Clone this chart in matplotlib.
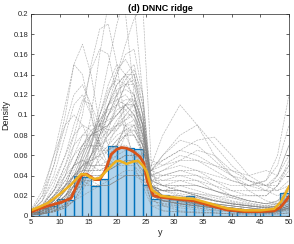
import numpy as np
import matplotlib
matplotlib.use("Agg")
import matplotlib.pyplot as plt

plt.rcParams['font.family'] = ['Liberation Sans', 'DejaVu Sans']

# histogram of y (density), bins of width 1.5 from 5 to 50
bin_edges = np.arange(5, 50.01, 1.5)
hist_density = [0.004, 0.008, 0.0095, 0.017, 0.0155, 0.040, 0.039, 0.030, 0.037, 0.069,
                0.068, 0.067, 0.066, 0.031, 0.017, 0.021, 0.017, 0.016, 0.020, 0.0145,
                0.013, 0.010, 0.008, 0.005, 0.004, 0.004, 0.004, 0.004, 0.006, 0.023]

# red density estimate
red_x = [5, 6.5, 8, 10.3, 12, 12.9, 13.8, 14.6, 15.4, 16.1, 17.0, 17.9, 19.0, 20.0, 20.8, 21.7,
         22.8, 24.0, 24.7, 25.3, 26.4, 28.2, 30.5, 33.4, 36.3, 39.2, 42.2, 45.1, 47.4, 48.6, 50]
red_y = [0.004, 0.007, 0.010, 0.0135, 0.0175, 0.029, 0.040, 0.0415, 0.039, 0.036, 0.036, 0.044,
         0.061, 0.066, 0.0677, 0.067, 0.064, 0.0587, 0.052, 0.034, 0.020, 0.018, 0.0168, 0.0149,
         0.0102, 0.0059, 0.0043, 0.0043, 0.005, 0.009, 0.019]

# yellow density estimate
yel_x = [5, 6.5, 8, 10.3, 12, 13.8, 14.6, 15.4, 16.1, 17.0, 18.4, 19.8, 20.5, 21.7, 22.8, 23.7,
         24.5, 25.2, 26.1, 27.6, 30.5, 33.4, 36.3, 39.2, 42.2, 45.1, 47.4, 48.6, 50]
yel_y = [0.0055, 0.009, 0.0129, 0.0228, 0.031, 0.0415, 0.041, 0.038, 0.0366, 0.0376, 0.046, 0.054,
         0.0545, 0.0515, 0.0538, 0.0545, 0.050, 0.044, 0.0257, 0.020, 0.018, 0.0168, 0.0122,
         0.0075, 0.0055, 0.0055, 0.007, 0.014, 0.029]

# gray ridge curves, values in hundredths at these y positions
ridge_x = [5, 7, 9, 11, 12.5, 14, 15.5, 17, 18.5, 20, 21.5, 23, 24.5, 26, 28, 31, 34, 37, 40, 43, 46, 48, 50]
ridge_curves_x100 = [
    [0.3, 1.5, 5, 10, 15, 17, 14, 9, 7, 9, 11, 11, 8, 2, 1.5, 1.2, 1, 0.8, 0.6, 0.5, 0.4, 0.5, 0.8],
    [0.5, 2, 6, 11, 15, 14, 10, 6, 5, 7, 9, 9, 6, 2, 1.5, 1.5, 1.2, 1, 0.8, 0.6, 0.5, 0.6, 1],
    [0.2, 0.5, 1.5, 4, 7, 10, 15, 18.5, 19, 15, 9, 5, 3, 1, 1, 1, 0.8, 0.6, 0.5, 0.4, 0.3, 0.4, 0.6],
    [0.3, 1, 2.5, 5, 8, 11, 14.5, 16.5, 16, 12, 8, 6, 4, 1.5, 1.2, 1, 0.8, 0.6, 0.5, 0.4, 0.3, 0.4, 0.6],
    [0.1, 0.3, 1, 2.5, 4, 6, 8, 10, 12, 14, 16, 16.5, 12, 3, 1, 0.8, 0.6, 0.5, 0.4, 0.3, 0.3, 0.3, 0.5],
    [0.1, 0.2, 0.5, 1.5, 3, 6, 10, 16, 21, 24, 20, 12, 5, 1, 0.5, 0.4, 0.3, 0.3, 0.2, 0.2, 0.2, 0.2, 0.3],
    [0.1, 0.2, 0.5, 1, 2, 4, 7, 11, 15, 19, 22, 21, 12, 2, 0.5, 0.4, 0.3, 0.3, 0.2, 0.2, 0.2, 0.2, 0.3],
    [0.1, 0.2, 0.4, 0.8, 1.5, 3, 5, 8, 11, 14, 17, 19.5, 21, 5, 1, 0.5, 0.4, 0.3, 0.2, 0.2, 0.2, 0.2, 0.3],
    [0.5, 2, 5, 9, 12, 13, 11, 7, 5, 6, 8, 9, 7, 2.5, 2, 2, 1.8, 1.5, 1.2, 1, 0.8, 1, 1.5],
    [0.4, 1.5, 4, 8, 11, 12, 10, 7, 6, 7, 8, 8, 6, 3, 2.5, 2.5, 2, 1.5, 1.2, 1, 0.8, 1, 2],
    [0.6, 2.5, 6, 9, 10, 9, 7, 5, 5, 7, 9, 9.5, 7, 2, 1.5, 1.5, 1.2, 1, 0.8, 0.6, 0.5, 0.6, 1],
    [0.3, 1, 3, 6, 9, 11.5, 11, 9, 8, 9, 10, 10, 7, 2, 1.5, 1.3, 1.2, 1, 0.8, 0.6, 0.6, 0.7, 1.2],
    [0.2, 0.8, 2, 4, 6, 8, 9, 9, 10, 12, 14, 15, 11, 3, 2, 1.5, 1.2, 1, 0.8, 0.6, 0.5, 0.6, 1],
    [0.2, 0.6, 1.5, 3, 5, 7, 8, 9, 11, 13, 14, 14, 10, 3, 2.5, 2, 1.5, 1.2, 1, 0.8, 0.6, 0.7, 1.2],
    [0.3, 1, 2.5, 5, 7, 8, 8, 8, 9, 11, 13, 13.5, 10, 3.5, 3, 2.5, 2, 1.5, 1.2, 1, 0.8, 1, 1.5],
    [0.1, 0.3, 1, 2, 3.5, 5, 7, 9, 11, 12, 12.5, 12, 9, 3, 2, 1.8, 1.5, 1.2, 1, 0.8, 0.7, 0.8, 1.4],
    [0.2, 0.5, 1.5, 3, 5, 7, 8, 8.5, 9, 10, 11, 11, 8.5, 3, 2.5, 2.5, 2, 1.6, 1.3, 1, 0.9, 1, 1.8],
    [0.1, 0.3, 0.8, 1.5, 2.5, 4, 6, 8, 10, 11.5, 12, 11, 8, 2, 1.5, 1.2, 1, 0.8, 0.6, 0.5, 0.4, 0.5, 0.8],
    [0.5, 1.5, 3.5, 6, 8, 9, 8.5, 7, 6.5, 7, 8, 8.5, 7, 3, 3, 3.5, 3, 2.5, 2, 1.5, 1.2, 1.4, 2.5],
    [0.3, 1, 2.5, 4.5, 6, 7, 7, 6.5, 6.5, 7.5, 8.5, 9, 7, 3.5, 4, 4.5, 4, 3, 2, 1.5, 1.2, 1.5, 3],
    [0.2, 0.5, 1, 2, 3, 3.5, 3.5, 3, 3, 3.5, 4, 4, 4, 5, 8, 11, 9, 6, 4, 2.5, 1.5, 1.2, 1.5],
    [0.2, 0.5, 1, 2, 3, 3.5, 3.5, 3.5, 3.5, 4, 4, 4, 4, 4.5, 6, 8, 9, 7, 5, 3.5, 2.5, 2, 2.5],
    [0.2, 0.5, 1, 2, 2.5, 3, 3, 3, 3, 3.5, 4, 4, 4, 4.5, 5.5, 6.5, 7.5, 7.8, 6, 4, 3, 2.5, 3],
    [0.2, 0.5, 1, 2, 3, 4, 4, 4, 4.5, 5, 5.5, 5.5, 5, 4.5, 6, 7.5, 7, 5.5, 4, 3, 2.5, 2.5, 3.5],
    [0.3, 0.8, 1.5, 3, 4, 4.5, 4.5, 4.5, 5, 5.5, 6, 6, 5.5, 5, 5.5, 6.5, 6, 5, 4, 3.5, 3, 3, 4.5],
    [0.3, 0.8, 2, 3.5, 5, 5.5, 5, 5, 5.5, 6, 6.5, 6.5, 6, 5.5, 5, 5.5, 5.5, 5, 4.5, 4, 4.5, 4, 6],
    [0.3, 0.8, 2, 3, 4, 4.5, 4.5, 4.5, 5, 5.5, 6, 6, 5.5, 4.5, 4, 4, 4, 3.5, 3, 3, 3.5, 6, 12],
    [0.2, 0.6, 1.5, 3, 4, 5, 5, 5, 5, 5.5, 6, 6, 5, 4, 4, 4.5, 4.5, 4, 3.5, 3, 3.5, 5, 9],
    [0.2, 0.5, 1.2, 2.5, 4, 5, 5.5, 6, 6.5, 7, 7, 6.5, 5.5, 4, 3.5, 3.5, 3.5, 3, 2.5, 2.5, 2.5, 4, 7],
    [0.1, 0.4, 1, 2, 3.5, 5, 6, 7, 8, 9, 9, 8, 6.5, 3.5, 3, 3, 3, 2.5, 2, 2, 2, 3, 5],
    [0.3, 0.8, 1.5, 2.5, 3.5, 4, 4, 4, 4.5, 5, 5.5, 5.5, 4.5, 2.5, 2, 2, 1.8, 1.5, 1.2, 1, 0.8, 0.8, 1.2],
    [0.2, 0.5, 1, 1.5, 2.5, 3, 3.5, 4, 4.5, 5, 5, 5, 4, 2, 1.8, 1.8, 1.5, 1.2, 1, 0.8, 0.6, 0.6, 1],
    [0.5, 1, 2, 3, 3.5, 3.5, 3, 3, 3, 3.5, 4, 4, 3.5, 2.5, 2.5, 2.5, 2.2, 2, 1.8, 1.5, 1.2, 1.2, 1.8],
    [0.1, 0.3, 0.6, 1, 1.5, 2, 2.5, 3, 3.5, 4, 4.5, 4.5, 3.5, 1.5, 1.2, 1.2, 1, 0.8, 0.6, 0.5, 0.4, 0.4, 0.8],
    [0.4, 1.2, 2.5, 4, 5, 5.5, 5, 4.5, 4.5, 5, 5.5, 5.5, 4.5, 2.5, 2.5, 3, 3, 2.5, 2, 1.5, 1.2, 1.5, 2.5],
    [0.1, 0.3, 0.8, 1.5, 3, 5, 7, 10, 13, 15, 14, 11, 8, 3, 2, 1.5, 1.2, 1, 0.8, 0.6, 0.5, 0.5, 0.8],
    [0.1, 0.2, 0.5, 1, 2, 4, 6, 9, 12, 14.5, 15.5, 14, 10, 3, 2, 1.5, 1.2, 1, 0.8, 0.6, 0.5, 0.5, 0.8],
    [0.1, 0.3, 0.7, 1.5, 3, 4.5, 6, 8, 11, 13, 14, 13, 9, 2.5, 1.5, 1.2, 1, 0.8, 0.6, 0.5, 0.4, 0.4, 0.7],
    [0.2, 0.5, 1.2, 2.5, 4, 6, 8, 9.5, 10.5, 11, 11.5, 11.5, 9, 3, 2, 1.8, 1.5, 1.2, 1, 0.8, 0.6, 0.6, 1],
    [0.1, 0.2, 0.5, 1.2, 2.5, 4, 6, 8.5, 11, 12.5, 13, 13, 10, 3, 1.5, 1.2, 1, 0.8, 0.6, 0.5, 0.4, 0.5, 0.8],
    [0.1, 0.2, 0.5, 1, 2, 3.5, 5.5, 8, 10, 11, 10.5, 9.5, 7.5, 3, 2, 1.8, 1.5, 1.2, 1, 0.8, 0.6, 0.6, 1],
    [0.1, 0.3, 0.8, 1.8, 3.5, 5.5, 7.5, 9, 9.5, 10, 11, 12, 9, 3, 2, 1.6, 1.3, 1, 0.8, 0.6, 0.5, 0.6, 1],
    [0.1, 0.2, 0.4, 0.8, 1.5, 3, 5, 7.5, 10, 12, 13.5, 14.5, 12, 3.5, 1.5, 1.2, 1, 0.8, 0.6, 0.5, 0.4, 0.5, 0.8],
    [0.2, 0.5, 1.2, 2.5, 4.5, 6.5, 8, 8.5, 9, 10, 11, 11.5, 9.5, 4, 3, 2.5, 2, 1.5, 1.2, 1, 0.8, 1, 1.5],
    [0.1, 0.3, 0.7, 1.5, 2.5, 4, 5.5, 7, 9, 10.5, 11, 10, 7.5, 2.5, 1.8, 1.5, 1.2, 1, 0.8, 0.6, 0.5, 0.6, 1],
    [0.1, 0.2, 0.5, 1, 2, 3.5, 5, 6.5, 8, 9.5, 10.5, 11, 9, 3, 2.5, 2.5, 2.2, 1.8, 1.4, 1.1, 0.9, 1, 1.6],
    [0.2, 0.5, 1, 2, 3.5, 5.5, 7.5, 9.5, 11, 11.5, 11, 10, 8, 3.5, 3, 3, 2.5, 2, 1.5, 1.2, 1, 1.2, 2],
    [0.1, 0.2, 0.4, 0.8, 1.5, 2.5, 4, 6, 8.5, 11, 13, 14, 11, 3, 1.8, 1.4, 1.1, 0.9, 0.7, 0.5, 0.4, 0.4, 0.7],
    [0.2, 0.6, 1.5, 3, 5, 7, 8.5, 9, 8.5, 8.5, 9.5, 10.5, 8.5, 3.5, 3.5, 4, 3.5, 2.5, 1.8, 1.3, 1, 1.2, 2.2],
    [0.1, 0.3, 0.8, 1.8, 3, 4.5, 6, 7.5, 8.5, 9, 9.5, 10, 8, 4, 4.5, 5, 4.5, 3.5, 2.5, 2, 2, 3, 5.5],
    [0.2, 0.5, 1.2, 2.5, 4, 5, 5.5, 6, 7, 8, 8.5, 8.5, 7, 4.5, 5, 6, 5.5, 4.5, 3.5, 3, 3, 4, 7],
    [0.1, 0.3, 0.8, 1.5, 2.5, 3.5, 4.5, 5.5, 6.5, 7.5, 8, 8, 6.5, 4, 4.5, 5.5, 6.5, 6, 4.5, 3.5, 3, 3.5, 5],
    [0.3, 0.9, 2, 3.5, 5, 6.5, 7, 7, 7.5, 8.5, 10, 11, 9, 3, 2.5, 2.2, 1.9, 1.5, 1.2, 1, 0.8, 0.9, 1.5],
    [0.1, 0.2, 0.5, 1.2, 2.5, 4.5, 7, 10, 12.5, 13.5, 13, 12, 9, 2.5, 1.5, 1.2, 1, 0.8, 0.6, 0.5, 0.4, 0.5, 0.8],
]

fig = plt.figure(figsize=(2.94, 2.44), dpi=100)
ax = fig.add_axes([0.105, 0.115, 0.878, 0.828])

# ridge curves (dashed gray)
for c in ridge_curves_x100:
    ax.plot(ridge_x, np.array(c) / 100, '--', color=(0.5, 0.5, 0.5), lw=0.5, alpha=0.55,
            dashes=(3, 1.2))

# histogram
ax.bar(bin_edges[:-1], hist_density, width=1.5, align='edge',
       facecolor=(0, 0.447, 0.741, 0.3), edgecolor=(0, 0.447, 0.741), linewidth=0.9)

ax.plot(red_x, red_y, color=(0.85, 0.325, 0.098), lw=2)
ax.plot(yel_x, yel_y, color=(0.929, 0.694, 0.125), lw=1.8)

ax.set_xlim(5, 50)
ax.set_ylim(0, 0.2)
ax.set_xticks(np.arange(5, 51, 5))
ax.set_yticks(np.arange(0, 0.201, 0.02))
ax.set_yticklabels(['0', '0.02', '0.04', '0.06', '0.08', '0.1', '0.12', '0.14', '0.16', '0.18', '0.2'])
ax.tick_params(direction='in', top=True, right=True, length=2, width=0.5,
               labelsize=5.5, colors=(0.15, 0.15, 0.15), pad=2)
for s in ax.spines.values():
    s.set_color((0.15, 0.15, 0.15))
    s.set_linewidth(0.5)

ax.set_xlabel('y', fontsize=6.5, color=(0.15, 0.15, 0.15), labelpad=2)
ax.set_ylabel('Density', fontsize=6.5, color=(0.15, 0.15, 0.15), labelpad=2)
ax.set_title('(d) DNNC ridge', fontsize=6.5, fontweight='bold', pad=2)

fig.savefig('out.png', dpi=100)
